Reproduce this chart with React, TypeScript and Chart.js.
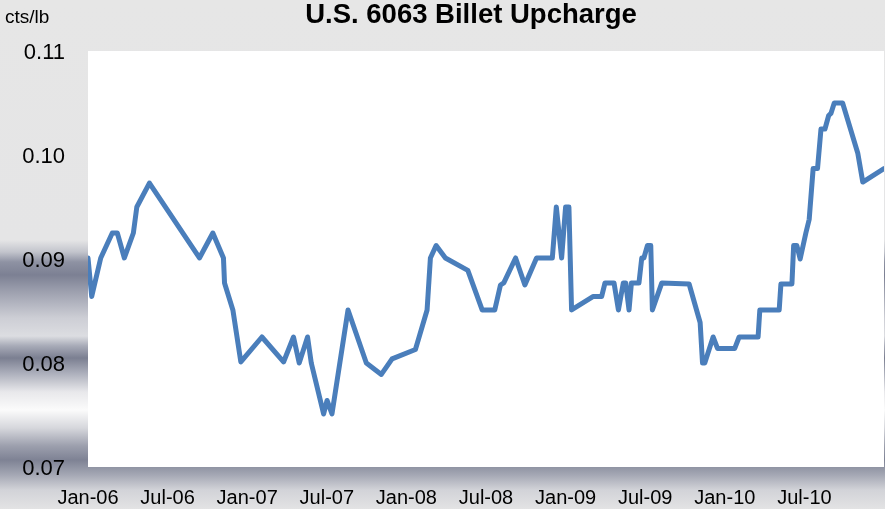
import React, { useEffect, useRef } from 'react';
import { Chart, registerables } from 'chart.js';

Chart.register(...registerables);

const TITLE = 'U.S. 6063 Billet Upcharge';
const Y_UNIT = 'cts/lb';

// x tick positions in months since Jan-06, and their labels
const TICK_MONTHS = [0, 6, 12, 18, 24, 30, 36, 42, 48, 54];
const TICK_LABELS = ['Jan-06', 'Jul-06', 'Jan-07', 'Jul-07', 'Jan-08', 'Jul-08', 'Jan-09', 'Jul-09', 'Jan-10', 'Jul-10'];

// y axis ticks
const Y_MIN = 0.07;
const Y_MAX = 0.11;
const Y_STEP = 0.01;

// series: months since Jan-06 (fractional) and upcharge values
const MONTHS = [
  0.0, 0.28, 0.96, 1.83, 2.21, 2.74, 3.42, 3.68, 4.63, 8.4, 9.41, 10.21, 10.29, 10.92, 11.52,
  13.11, 14.74, 15.49, 15.92, 16.55, 16.83, 17.76, 18.02, 18.39, 19.6, 20.98, 22.11, 22.92,
  24.68, 25.56, 25.81, 26.24, 26.94, 28.63, 29.71, 30.66, 31.09, 31.34, 32.23, 32.93, 33.81,
  35.0, 35.3, 35.7, 36.0, 36.25, 36.45, 38.09, 38.72, 38.97, 39.65, 39.98, 40.35, 40.53,
  40.78, 40.96, 41.53, 41.74, 41.9, 42.17, 42.42, 42.54, 43.25, 45.31, 46.14, 46.32, 46.49,
  47.12, 47.45, 48.75, 49.08, 50.51, 50.64, 52.1, 52.23, 53.06, 53.19, 53.43, 53.68, 54.11,
  54.36, 54.66, 54.99, 55.25, 55.55, 55.83, 56.0, 56.25, 56.88, 58.02, 58.4, 60.0,
];
const VALUES = [
  0.0901, 0.0864, 0.0901, 0.0925, 0.0925, 0.0901, 0.0925, 0.095, 0.0973, 0.0901, 0.0925, 0.0901, 0.0877, 0.0851, 0.0801,
  0.0825, 0.0801, 0.0825, 0.08, 0.0825, 0.08, 0.0751, 0.0764, 0.0751, 0.0851, 0.08, 0.0789, 0.0804,
  0.0813, 0.0851, 0.0901, 0.0913, 0.0901, 0.0889, 0.0851, 0.0851, 0.0875, 0.0877, 0.0901, 0.0875, 0.0901,
  0.0901, 0.095, 0.0901, 0.095, 0.095, 0.0851, 0.0864, 0.0864, 0.0877, 0.0877, 0.0851, 0.0877, 0.0877,
  0.0851, 0.0877, 0.0877, 0.0901, 0.0901, 0.0913, 0.0913, 0.0851, 0.0877, 0.0876, 0.0839, 0.08, 0.08,
  0.0825, 0.0814, 0.0814, 0.0825, 0.0825, 0.0851, 0.0851, 0.0876, 0.0876, 0.0913, 0.0913, 0.09, 0.0925,
  0.0938, 0.0987, 0.0987, 0.1025, 0.1025, 0.1038, 0.104, 0.105, 0.105, 0.1002, 0.0974, 0.0987,
];

const FONT = '"Liberation Sans", Arial, sans-serif';

const backgroundPlugin = {
  id: 'metalBackground',
  beforeDraw(chart: any) {
    const { ctx, width, height, chartArea } = chart;
    ctx.save();
    const g = ctx.createLinearGradient(0, 0, 0, height);
    const stops: [number, string][] = [
      [0, '#e6e6e6'],
      [240, '#e5e5e6'],
      [252, '#c2c4cc'],
      [262, '#8e92a3'],
      [275, '#7c8093'],
      [290, '#9a9dac'],
      [318, '#cdced5'],
      [336, '#dcdde1'],
      [346, '#a7aab7'],
      [358, '#7b7f91'],
      [372, '#a8abb8'],
      [392, '#e8e8eb'],
      [410, '#fbfbfb'],
      [428, '#d6d7dc'],
      [446, '#9c9fad'],
      [460, '#7e8294'],
      [474, '#a2a5b2'],
      [490, '#d2d3d8'],
      [509, '#e3e3e4'],
    ];
    for (const [y, c] of stops) g.addColorStop(Math.min(1, y / height), c);
    ctx.fillStyle = g;
    ctx.fillRect(0, 0, width, height);
    ctx.fillStyle = '#ffffff';
    ctx.fillRect(chartArea.left, chartArea.top, chartArea.right - chartArea.left, chartArea.bottom - chartArea.top);
    ctx.restore();
  },
};

const textPlugin = {
  id: 'titleText',
  afterDraw(chart: any) {
    const { ctx } = chart;
    ctx.save();
    ctx.fillStyle = '#000000';
    ctx.textBaseline = 'alphabetic';
    ctx.textAlign = 'center';
    ctx.font = `bold 27.5px ${FONT}`;
    ctx.fillText(TITLE, 471, 23);
    ctx.textAlign = 'left';
    ctx.font = `19px ${FONT}`;
    ctx.fillText(Y_UNIT, 5, 23);
    ctx.restore();
  },
};

export default function App() {
  const canvasRef = useRef<HTMLCanvasElement | null>(null);

  useEffect(() => {
    document.body.style.margin = '0';
    const canvas = canvasRef.current;
    if (!canvas) return;
    const points = MONTHS.map((m, i) => ({ x: m, y: VALUES[i] }));
    const chart = new Chart(canvas, {
      type: 'line',
      data: {
        datasets: [
          {
            data: points,
            borderColor: '#4a7ebb',
            borderWidth: 5,
            pointRadius: 0,
            tension: 0,
            borderJoinStyle: 'round',
            borderCapStyle: 'round',
            fill: false,
          },
        ],
      },
      options: {
        animation: false,
        responsive: false,
        devicePixelRatio: 1,
        layout: { padding: { top: 51, right: 1, left: 0, bottom: 0 } },
        plugins: {
          legend: { display: false },
          title: { display: false },
          tooltip: { enabled: false },
        },
        scales: {
          x: {
            type: 'linear',
            min: 0,
            max: 60,
            grid: { display: false, drawTicks: false },
            border: { display: false },
            afterBuildTicks(scale: any) {
              scale.ticks = TICK_MONTHS.map((v) => ({ value: v }));
            },
            afterFit(scale: any) {
              scale.height = 42;
            },
            ticks: {
              autoSkip: false,
              maxRotation: 0,
              minRotation: 0,
              padding: 19,
              color: '#000000',
              font: { family: FONT, size: 20 },
              callback: (v: any) => {
                const i = TICK_MONTHS.indexOf(Number(v));
                return i >= 0 ? TICK_LABELS[i] : null;
              },
            },
          },
          y: {
            type: 'linear',
            min: Y_MIN,
            max: Y_MAX,
            grid: { display: false, drawTicks: false },
            border: { display: false },
            afterFit(scale: any) {
              scale.width = 88;
            },
            ticks: {
              stepSize: Y_STEP,
              padding: 23,
              labelOffset: 2,
              color: '#000000',
              font: { family: FONT, size: 22 },
              callback: (v: any) => Number(v).toFixed(2),
            },
          },
        },
      },
      plugins: [backgroundPlugin, textPlugin],
    });
    return () => chart.destroy();
  }, []);

  return (
    <div style={{ width: 885, height: 509, position: 'relative' }}>
      <canvas ref={canvasRef} width={885} height={509} style={{ display: 'block', width: 885, height: 509 }} />
    </div>
  );
}
